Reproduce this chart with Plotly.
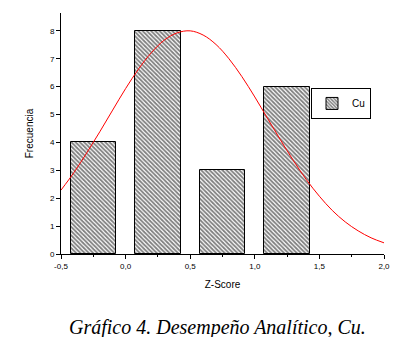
import plotly.graph_objects as go

# Data
bin_centers = [-0.25, 0.25, 0.75, 1.25]
frequencies = [4, 8, 3, 6]
bin_width = 0.35

curve_x = [-0.5, -0.4, -0.3, -0.2, -0.1, 0.0, 0.1, 0.2, 0.3, 0.4, 0.5, 0.6, 0.7,
           0.8, 0.9, 1.0, 1.1, 1.2, 1.3, 1.4, 1.5, 1.6, 1.7, 1.8, 1.9, 2.0]
curve_y = [2.29, 2.92, 3.63, 4.38, 5.16, 5.93, 6.63, 7.22, 7.67, 7.93, 8.00, 7.85, 7.51,
           7.00, 6.36, 5.63, 4.85, 4.08, 3.34, 2.66, 2.07, 1.56, 1.15, 0.83, 0.58, 0.40]

x_tickvals = [-0.5, 0.0, 0.5, 1.0, 1.5, 2.0]
x_ticktext = ["-0,5", "0,0", "0,5", "1,0", "1,5", "2,0"]
y_tickvals = [0, 1, 2, 3, 4, 5, 6, 7, 8]

fig = go.Figure()
fig.add_trace(go.Bar(
    x=bin_centers, y=frequencies, width=bin_width, name="Cu",
    marker=dict(color="white", line=dict(color="black", width=1),
                pattern=dict(shape="\\", fgcolor="black", bgcolor="white",
                             size=3, solidity=0.6, fillmode="overlay")),
    showlegend=True,
))
fig.add_trace(go.Scatter(
    x=curve_x, y=curve_y, mode="lines", line=dict(color="red", width=1, shape="spline"),
    showlegend=False, hoverinfo="skip",
))

fig.update_layout(
    width=413, height=337,
    margin=dict(l=61, r=29, t=13, b=83, autoexpand=False),
    paper_bgcolor="white", plot_bgcolor="white",
    font=dict(family="Liberation Sans, Arial", color="black", size=9),
    bargap=0,
    legend=dict(x=0.774, y=0.689, xanchor="left", yanchor="top",
                bordercolor="black", borderwidth=1, bgcolor="white",
                font=dict(size=10), itemwidth=30,
                tracegroupgap=0),
    xaxis=dict(range=[-0.5, 2.0], showgrid=False, zeroline=False,
               showline=True, linecolor="black", linewidth=1,
               ticks="outside", ticklen=4, tickcolor="black",
               tickvals=x_tickvals, ticktext=x_ticktext,
               tickfont=dict(size=8), automargin=False,
               minor=dict(ticks="outside", ticklen=2, tickcolor="black", dtick=0.25,
                          tick0=-0.5),
               title=dict(text="Z-Score", font=dict(size=10), standoff=11)),
    yaxis=dict(range=[0, 8.64], showgrid=False, zeroline=False,
               showline=True, linecolor="black", linewidth=1,
               ticks="outside", ticklen=4, tickcolor="black",
               tickvals=y_tickvals, tickfont=dict(size=8), automargin=False,
               title=dict(text="Frecuencia", font=dict(size=10), standoff=14)),
    annotations=[dict(text="Gráfico 4. Desempeño Analítico, Cu.",
                      xref="paper", yref="paper", x=0.485, y=0, yshift=-73,
                      xanchor="center", yanchor="middle", showarrow=False,
                      font=dict(family="Liberation Serif, Times New Roman",
                                size=20, style="italic"))],
)

fig.write_html("out.html", post_script="document.body.style.margin='0';",
               config={"displayModeBar": False})
